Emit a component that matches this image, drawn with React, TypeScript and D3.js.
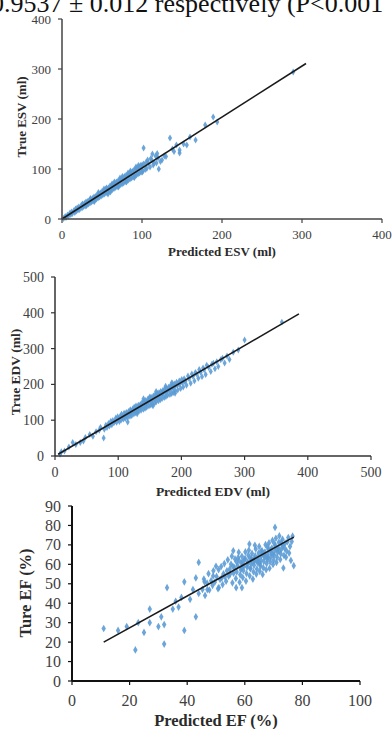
import React from 'react'
import * as d3 from 'd3'

// ESV: [predicted, true] (ml)
const esvPoints: [number, number][] = [
  [2, 1], [4, 5], [5, 3], [7, 8], [8, 6], [10, 12], [11, 9], [12, 14], [13, 11], [15, 17], [16, 13], [17, 20],
  [18, 16], [19, 22], [20, 18], [21, 24], [22, 19], [24, 27], [25, 22], [26, 29], [27, 25], [28, 31], [29, 26],
  [30, 34], [31, 28], [32, 35], [33, 30], [34, 37], [35, 32], [36, 39], [37, 34], [38, 41], [39, 36], [40, 44],
  [41, 38], [42, 45], [43, 40], [44, 48], [45, 42], [46, 50], [47, 44], [48, 52], [49, 46], [50, 55], [51, 48],
  [52, 56], [53, 50], [54, 59], [55, 52], [56, 61], [57, 53], [58, 62], [59, 56], [60, 66], [61, 57], [62, 67],
  [63, 59], [64, 70], [65, 61], [66, 71], [67, 63], [68, 74], [69, 65], [70, 76], [71, 66], [72, 78], [73, 69],
  [74, 80], [75, 70], [76, 82], [77, 72], [78, 85], [79, 75], [80, 87], [81, 76], [82, 88], [83, 78], [84, 91],
  [85, 80], [86, 93], [87, 82], [88, 95], [89, 84], [90, 98], [91, 86], [92, 100], [93, 88], [94, 102], [95, 90],
  [96, 104], [97, 92], [98, 107], [99, 94], [100, 108], [101, 96], [102, 110], [104, 99], [105, 113], [106, 101],
  [108, 112], [110, 104], [112, 118], [114, 108], [102, 142], [113, 130], [117, 126], [118, 112], [120, 122],
  [121, 100], [123, 115], [125, 118], [128, 126], [130, 125], [135, 162], [138, 140], [140, 135], [143, 148],
  [147, 132], [147, 138], [152, 150], [156, 148], [160, 164], [167, 158], [179, 188], [189, 204], [194, 194],
  [289, 294], [25.5, 30], [30.5, 27], [35.5, 41], [40.5, 35], [45.5, 53], [55.5, 62], [60.5, 54], [65.5, 74],
  [70.5, 64], [75.5, 85], [80.5, 74], [85.5, 96], [90.5, 83], [95.5, 107], [100.5, 94], [107, 118], [111, 121],
  [115, 112], [119, 131], [62.5, 70], [72.5, 82], [82.5, 92], [92.5, 104], [52.5, 60], [57.5, 50],
]
const esvFit: [number, number][] = [[0, 0], [305, 311]]

// EDV: [predicted, true] (ml)
const edvPoints: [number, number][] = [
  [8, 5], [10, 12], [15, 14], [22, 25], [28, 38], [33, 32], [40, 38], [45, 42], [48, 52], [55, 60], [60, 55],
  [65, 68], [70, 72], [72, 80], [77, 50], [78, 75], [115, 95],
  [80.5, 86.2], [82.3, 79.4], [84.7, 91.0], [86.1, 83.5], [88.4, 96.8], [89.9, 87.1], [91.6, 99.3], [93.2, 92.7],
  [94.8, 97.1], [96.3, 106.4], [97.5, 94.2], [99.2, 109.5], [100.4, 101.8], [101.9, 96.3], [103.3, 111.2],
  [104.6, 100.5], [105.2, 116.8], [106.7, 107.4], [108.1, 103.0], [109.3, 119.3], [110.5, 111.6], [111.2, 104.4],
  [112.8, 121.7], [113.4, 113.2], [114.9, 107.6], [116.3, 124.1], [117.0, 118.8], [118.6, 111.3], [119.2, 129.0],
  [120.7, 122.5], [121.4, 113.2], [122.9, 131.4], [123.5, 125.7], [124.8, 117.4], [125.3, 136.2], [126.9, 128.3],
  [127.6, 120.9], [128.2, 139.8], [129.7, 129.1], [130.4, 123.2], [131.8, 141.6], [132.5, 134.6], [133.1, 125.4],
  [134.9, 144.2], [135.6, 137.3], [136.2, 127.6], [137.7, 148.5], [138.3, 141.1], [139.8, 130.2], [140.4, 151.3],
  [141.9, 144.2], [142.5, 133.5], [143.3, 155.0], [144.7, 146.3], [145.1, 136.4], [146.8, 158.4], [147.3, 151.1],
  [148.6, 139.5], [149.2, 161.6], [150.8, 153.2], [151.5, 142.3], [152.1, 164.4], [153.7, 156.0], [154.2, 145.3],
  [155.6, 167.7], [156.3, 159.2], [157.9, 148.1], [158.4, 171.3], [159.6, 162.0], [160.2, 151.2], [161.7, 174.6],
  [162.3, 165.4], [163.8, 154.3], [164.5, 177.0], [165.1, 168.2], [166.6, 157.1], [167.3, 180.5], [168.9, 172.4],
  [169.4, 160.3], [170.7, 183.1], [171.2, 175.0], [172.8, 163.6], [173.3, 186.2], [174.9, 178.3], [175.5, 166.4],
  [176.2, 189.6], [177.6, 181.2], [178.1, 169.8], [179.7, 192.1], [180.3, 184.5], [181.8, 171.9], [182.4, 195.3],
  [183.0, 187.4], [184.6, 174.7], [185.2, 198.6], [186.7, 190.0], [187.3, 177.4], [188.8, 201.3], [189.5, 193.7],
  [190.1, 180.6], [192.4, 206.1], [193.6, 197.2], [194.2, 184.3], [196.7, 209.4], [197.3, 201.0], [198.8, 188.5],
  [200.5, 213.7], [201.4, 205.2], [202.9, 192.6], [204.3, 216.1], [206.6, 210.3], [208.1, 197.4], [210.4, 223.5],
  [212.2, 216.0], [214.7, 203.1], [216.5, 229.2], [218.3, 222.4], [220.6, 209.8], [222.1, 233.0], [224.4, 229.1],
  [226.8, 217.3], [228.2, 241.6], [230.5, 234.0], [232.6, 221.7], [234.3, 246.1], [236.0, 241.2], [238.4, 227.5],
  [240.1, 253.3], [243.2, 247.0], [246.5, 235.8], [248.3, 256.2], [250.6, 259.4], [253.1, 243.6], [256.0, 263.5],
  [258.4, 249.8], [262.3, 269.1], [265.0, 273.2], [268.4, 259.7], [272.2, 279.5], [276.1, 269.6], [282, 290],
  [290, 296], [300, 324], [359, 374], [140, 160], [150, 165], [160, 180], [175, 195], [185, 205], [130, 118],
  [155, 140], [190, 175], [145, 150], [165, 172], [120, 126], [135, 140], [170, 176], [205, 208],
]
const edvFit: [number, number][] = [[5, 5], [386, 397]]

// EF: [predicted, true] (%)
const efPoints: [number, number][] = [
  [11, 27], [16, 26], [19, 28], [22, 16], [23, 30], [25, 25], [27, 37], [27, 30], [30, 28], [31, 33], [32, 19],
  [32, 29], [33, 48], [35, 37], [36, 41], [37, 38], [38, 43], [39, 26], [39, 51], [41, 42], [42, 47], [43, 33],
  [43, 53], [44, 61], [44, 45], [46, 51], [47, 47], [49, 54], [50, 59], [51, 48], [52, 53], [56, 67], [57, 48],
  [59, 48],
  [45.3, 47.1], [45.8, 52.4], [46.2, 44.0], [46.9, 50.3], [47.4, 55.2], [47.7, 46.8], [48.3, 51.6], [48.8, 49.2],
  [49.1, 56.7], [49.6, 50.9], [50.2, 53.8], [50.7, 47.5], [50.9, 57.3], [51.4, 52.2], [51.8, 58.9], [52.3, 49.6],
  [52.6, 55.1], [52.9, 60.4], [53.5, 51.3], [53.8, 56.7], [54.1, 62.3], [54.4, 53.9], [54.8, 57.6], [55.2, 60.1],
  [55.5, 64.2], [55.7, 50.5], [56.1, 55.4], [56.4, 58.3], [56.6, 62.8], [56.9, 52.7], [57.2, 56.1], [57.5, 59.4],
  [57.7, 63.5], [57.9, 66.2], [58.2, 50.8], [58.4, 54.6], [58.6, 57.2], [58.8, 60.7], [59.0, 64.1], [59.3, 53.2],
  [59.5, 56.8], [59.7, 59.0], [59.9, 62.5], [60.2, 66.4], [60.4, 51.4], [60.6, 55.3], [60.8, 58.6], [61.0, 61.2],
  [61.2, 64.7], [61.4, 67.3], [61.7, 54.1], [61.9, 57.8], [62.1, 60.3], [62.3, 62.9], [62.5, 65.6], [62.8, 52.4],
  [63.0, 56.2], [63.2, 59.5], [63.4, 61.8], [63.6, 64.4], [63.8, 67.9], [64.0, 55.0], [64.2, 57.6], [64.4, 60.9],
  [64.6, 63.3], [64.8, 65.8], [65.0, 69.2], [65.2, 56.4], [65.4, 59.1], [65.6, 62.2], [65.8, 64.6], [66.0, 67.0],
  [66.2, 54.8], [66.4, 58.3], [66.6, 61.5], [66.8, 63.9], [67.0, 66.3], [67.2, 70.1], [67.4, 57.2], [67.6, 60.4],
  [67.8, 62.7], [68.0, 65.1], [68.2, 67.8], [68.4, 71.0], [68.6, 58.0], [68.8, 61.3], [69.0, 63.6], [69.2, 66.0],
  [69.4, 68.4], [69.6, 72.3], [69.8, 59.9], [70.0, 62.2], [70.2, 64.8], [70.4, 67.1], [70.6, 69.5], [70.8, 73.4],
  [71.0, 61.0], [71.2, 63.7], [71.4, 66.2], [71.6, 68.6], [71.8, 71.3], [72.0, 74.6], [72.3, 62.5], [72.5, 65.4],
  [72.7, 67.8], [72.9, 70.2], [73.1, 72.9], [73.4, 58.1], [73.6, 64.6], [73.8, 68.3], [74.0, 70.9], [74.3, 63.7],
  [74.5, 66.9], [74.8, 71.6], [75.1, 73.8], [75.4, 65.8], [75.7, 69.2], [76.0, 62.0], [76.3, 71.7], [76.6, 74.5],
  [77.0, 59.3], [70.5, 79.0], [63.5, 69.8], [61.6, 70.4], [55.9, 58.9], [57.1, 61.3], [58.0, 62.0], [59.2, 61.0],
  [60.1, 63.0], [60.9, 60.0], [61.8, 63.2], [62.7, 61.1], [63.3, 63.0], [64.1, 62.1], [64.9, 61.0], [65.7, 66.8],
  [66.5, 65.2], [67.3, 64.0], [68.1, 63.4], [68.9, 67.2], [69.7, 65.1], [70.3, 70.6], [71.1, 68.0], [71.9, 66.9],
  [72.6, 71.2], [73.3, 69.6], [58.9, 58.1], [62.0, 58.0], [65.3, 60.3], [67.9, 68.9], [54.9, 55.0], [53.1, 53.6],
]
const efFit: [number, number][] = [[11, 20], [77, 74]]

const esvTicks = [0, 100, 200, 300, 400]
const edvTicks = [0, 100, 200, 300, 400, 500]
const efXTicks = [0, 20, 40, 60, 80, 100]
const efYTicks = [0, 10, 20, 30, 40, 50, 60, 70, 80, 90]

const serif = '"Liberation Serif", "Times New Roman", serif'
const dotColor = '#5b9bd5'

type PanelProps = {
  points: [number, number][]
  fit: [number, number][]
  xTicks: number[]
  yTicks: number[]
  xRange: [number, number]
  yRange: [number, number]
  xTitle: string
  yTitle: string
  tickSize: number
  titleSize: number
  xLabelY: number
  yLabelX: number
  xTitleY: number
  yTitleX: number
  yTitleY: number
  axisColor: string
  axisWidth: number
  dotSize: number
}

const Panel = (p: PanelProps) => {
  const x = d3.scaleLinear().domain([p.xTicks[0], p.xTicks[p.xTicks.length - 1]]).range(p.xRange)
  const y = d3.scaleLinear().domain([p.yTicks[0], p.yTicks[p.yTicks.length - 1]]).range(p.yRange)
  const line = d3.line<[number, number]>().x((d) => x(d[0])).y((d) => y(d[1]))
  const sym = d3.symbol().type(d3.symbolDiamond).size(p.dotSize)()
  const x0 = p.xRange[0]
  const y0 = p.yRange[0]
  const xTitleX = (p.xRange[0] + p.xRange[1]) / 2
  return (
    <g>
      {p.points.map((d, i) => (
        <path key={i} d={sym || ''} transform={`translate(${x(d[0])},${y(d[1])})`} fill={dotColor} opacity={0.9} />
      ))}
      <path d={line(p.fit) || ''} stroke="#1a1a1a" strokeWidth={1.6} fill="none" />
      <line x1={x0} x2={p.xRange[1]} y1={y0} y2={y0} stroke={p.axisColor} strokeWidth={p.axisWidth} />
      <line x1={x0} x2={x0} y1={y0} y2={p.yRange[1]} stroke={p.axisColor} strokeWidth={p.axisWidth} />
      {p.xTicks.map((t) => (
        <g key={'x' + t}>
          <line x1={x(t)} x2={x(t)} y1={y0} y2={y0 + 4} stroke={p.axisColor} strokeWidth={1.2} />
          <text x={x(t)} y={p.xLabelY} textAnchor="middle" fontSize={p.tickSize} fill="#404040" fontFamily={serif}>
            {t}
          </text>
        </g>
      ))}
      {p.yTicks.map((t) => (
        <g key={'y' + t}>
          <line x1={x0 - 4} x2={x0} y1={y(t)} y2={y(t)} stroke={p.axisColor} strokeWidth={1.2} />
          <text x={p.yLabelX} y={y(t)} dy="0.35em" textAnchor="end" fontSize={p.tickSize} fill="#404040" fontFamily={serif}>
            {t}
          </text>
        </g>
      ))}
      <text x={xTitleX} y={p.xTitleY} textAnchor="middle" fontSize={p.titleSize} fontWeight="bold" fill="#2b2b2b" fontFamily={serif}>
        {p.xTitle}
      </text>
      <text
        transform={`translate(${p.yTitleX},${p.yTitleY}) rotate(-90)`}
        dy="0.35em"
        textAnchor="middle"
        fontSize={p.titleSize}
        fontWeight="bold"
        fill="#2b2b2b"
        fontFamily={serif}
      >
        {p.yTitle}
      </text>
    </g>
  )
}

export default function App() {
  return (
    <svg width={392} height={729} style={{ position: 'absolute', left: 0, top: 0, background: '#fff' }}>
      <text x={-9} y={12} fontSize={26} fill="#111" fontFamily={serif}>
        0.9537 ± 0.012 respectively (P&lt;0.001
      </text>
      <Panel
        points={esvPoints}
        fit={esvFit}
        xTicks={esvTicks}
        yTicks={esvTicks}
        xRange={[62, 382]}
        yRange={[219, 19]}
        xTitle="Predicted ESV (ml)"
        yTitle="True ESV (ml)"
        tickSize={13}
        titleSize={13}
        xLabelY={239}
        yLabelX={51}
        xTitleY={256}
        yTitleX={21}
        yTitleY={117}
        axisColor="#444"
        axisWidth={1.5}
        dotSize={15}
      />
      <Panel
        points={edvPoints}
        fit={edvFit}
        xTicks={edvTicks}
        yTicks={edvTicks}
        xRange={[55, 371]}
        yRange={[456, 277]}
        xTitle="Predicted EDV (ml)"
        yTitle="True EDV (ml)"
        tickSize={14}
        titleSize={13.5}
        xLabelY={477}
        yLabelX={44}
        xTitleY={496}
        yTitleX={15}
        yTitleY={372}
        axisColor="#333"
        axisWidth={1.5}
        dotSize={14}
      />
      <Panel
        points={efPoints}
        fit={efFit}
        xTicks={efXTicks}
        yTicks={efYTicks}
        xRange={[72, 360]}
        yRange={[681, 506]}
        xTitle="Predicted EF (%)"
        yTitle="Ture EF (%)"
        tickSize={16}
        titleSize={16.5}
        xLabelY={706}
        yLabelX={61}
        xTitleY={726}
        yTitleX={25}
        yTitleY={593}
        axisColor="#111"
        axisWidth={2}
        dotSize={17}
      />
    </svg>
  )
}
